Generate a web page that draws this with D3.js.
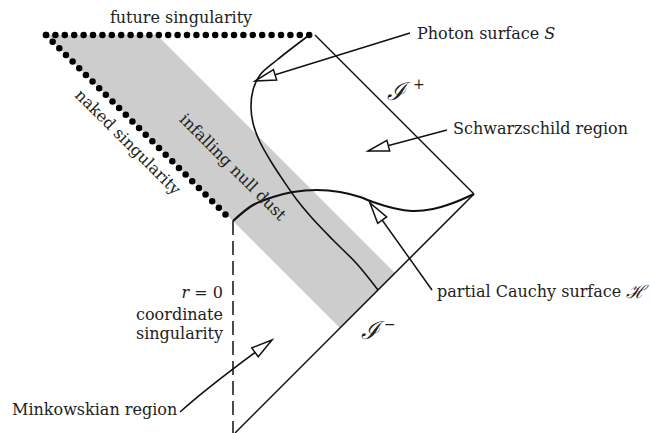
<!DOCTYPE html>
<html><head><meta charset="utf-8">
<script src="https://cdn.jsdelivr.net/npm/d3@7"></script>
<style>body{margin:0;background:#fff}svg{display:block}</style>
</head><body>
<script>
// Diagram coordinates: r (space, right positive), t (time, up positive); origin at the end of the naked singularity
const futureSingularity = [[-18.7, 18.6], [8.2, 18.6]];
const nakedSingularity  = [[-18.7, 18.6], [-0.5, 0.4]];
const scriPlus  = [[8.2, 18.6], [24.1, 2.7]];
const scriMinus = [[24.1, 2.7], [0.2, -21.2]];
const regularCentre = [[0, 0], [0, -21.2]];
const nullDustBand = [[-18.7, 18.6], [-7.6, 18.6], [16.2, -5.2], [10.7, -10.7], [0, 0]];
const photonSurface = [[7.5,18.5],[4.4,16.1],[2.7,14.6],[2.0,13.1],[1.8,11.4],[2.0,9.8],[2.6,8.1],[3.7,6.1],[5.0,4.1],[6.4,2.1],[7.9,0.3],[10.0,-1.9],[12.4,-4.3],[14.5,-6.9]];
const cauchySurface = [[0,0],[2.0,1.6],[4.0,2.4],[6.0,2.9],[8.4,3.1],[10.7,2.9],[12.7,2.4],[14.0,1.9],[16.0,1.3],[18.0,1.0],[20.0,1.2],[22.0,1.8],[24.1,2.7]];
// arrows: tail, (control), tip
const arrowNames = ["photon", "schwarzschild", "cauchy", "minkowski"];
const arrowTails = [[17.7, 18.8], [21.4, 9.1], [19.9, -6.9], [-5.3, -19.1]];
const arrowCtrls = [null, null, null, [-2.3, -16.4]];
const arrowTips  = [[2.2, 14.0], [13.5, 7.0], [13.7, 1.8], [3.9, -11.9]];
// labels
const labelTexts = ["future singularity", "naked singularity", "infalling null dust", "Photon surface ", "Schwarzschild region", "partial Cauchy surface ", "r = 0", "coordinate", "singularity", "Minkowskian region"];
const labelPos = [[-5.2, 20.4], [-10.5, 7.9], [0.0, 5.4], [18.4, 18.8], [22.0, 9.3], [20.4, -7.0], [-1.0, -7.1], [-1.0, -9.3], [-1.0, -11.2], [-22.1, -18.8]];
const labelAnchor = ["middle", "middle", "middle", "start", "start", "start", "end", "end", "end", "start"];
const labelRotate = [0, 45, 45, 0, 0, 0, 0, 0, 0, 0];
const scriGlyphs = ["ℐ", "ℐ"];
const scriSigns = ["+", "−"];
const scriGlyphPos = [[15.4, 13.0], [12.8, -10.9]];
const scriSignPos = [[18.0, 13.7], [15.1, -10.3]];

const W = 650, H = 433;
const x = d3.scaleLinear().domain([-23.3, 41.7]).range([0, W]);
const y = d3.scaleLinear().domain([22.1, -21.2]).range([0, H]);

const svg = d3.select("body").append("svg").attr("width", W).attr("height", H);
const font = "'DejaVu Serif', 'Liberation Serif', serif";
const line = d3.line().x(d => x(d[0])).y(d => y(d[1]));
const curve = d3.line().x(d => x(d[0])).y(d => y(d[1])).curve(d3.curveCatmullRom.alpha(0.5));

// shaded null dust band
svg.append("path").attr("d", line(nullDustBand) + "Z").attr("fill", "#cdcdcd");

// boundaries
[scriPlus, scriMinus].forEach(s => svg.append("path").attr("d", line(s)).attr("stroke", "#111").attr("stroke-width", 1.5).attr("fill", "none"));
svg.append("path").attr("d", line(regularCentre)).attr("stroke", "#111").attr("stroke-width", 1.5)
  .attr("stroke-dasharray", "14 6").attr("fill", "none");

// curves
svg.append("path").attr("d", curve(photonSurface)).attr("stroke", "#111").attr("stroke-width", 1.6).attr("fill", "none");
svg.append("path").attr("d", curve(cauchySurface)).attr("stroke", "#111").attr("stroke-width", 2.2).attr("fill", "none");

// dotted singularities
[futureSingularity, nakedSingularity].forEach(s => svg.append("path").attr("d", line(s))
  .attr("stroke", "#000").attr("stroke-width", 6.5).attr("stroke-linecap", "round")
  .attr("stroke-dasharray", "0 9.4").attr("fill", "none"));

// arrows
arrowNames.forEach((n, i) => {
  const t = arrowTails[i], c = arrowCtrls[i], p = arrowTips[i];
  const path = d3.path();
  path.moveTo(x(t[0]), y(t[1]));
  const from = c ? c : t;
  if (c) path.quadraticCurveTo(x(c[0]), y(c[1]), x(p[0]), y(p[1]));
  else path.lineTo(x(p[0]), y(p[1]));
  svg.append("path").attr("d", path.toString()).attr("stroke", "#111").attr("stroke-width", 1.5).attr("fill", "none");
  const px = x(p[0]), py = y(p[1]);
  const dx = x(from[0]) - px, dy = y(from[1]) - py, L = Math.hypot(dx, dy);
  const ux = dx / L, uy = dy / L, len = 21, hw = 5.5;
  const bx = px + ux * len, by = py + uy * len;
  svg.append("path").attr("d", `M${px},${py}L${bx - uy * hw},${by + ux * hw}L${bx + uy * hw},${by - ux * hw}Z`)
    .attr("fill", "#fff").attr("stroke", "#111").attr("stroke-width", 1.5).attr("stroke-linejoin", "miter");
});

// labels
labelTexts.forEach((s, i) => {
  const X = x(labelPos[i][0]), Y = y(labelPos[i][1]);
  const tx = svg.append("text").attr("x", X).attr("y", Y).attr("text-anchor", labelAnchor[i])
    .attr("dominant-baseline", "central").attr("font-family", font).attr("font-size", 16).attr("fill", "#222")
    .attr("transform", labelRotate[i] ? `rotate(${labelRotate[i]},${X},${Y})` : null);
  if (i === 3) { tx.text(s); tx.append("tspan").attr("font-style", "italic").text("S"); }
  else if (i === 5) { tx.text(s); tx.append("tspan").attr("font-style", "italic").attr("font-size", 18).text("ℋ"); }
  else if (i === 6) { tx.append("tspan").attr("font-style", "italic").text("r"); tx.append("tspan").text(" = 0"); }
  else tx.text(s);
});
// null infinity symbols
scriGlyphs.forEach((g, i) => {
  svg.append("text").attr("x", x(scriGlyphPos[i][0])).attr("y", y(scriGlyphPos[i][1])).attr("dominant-baseline", "central")
    .attr("font-family", font).attr("font-style", "italic").attr("font-size", 25).attr("fill", "#222").text(g);
  svg.append("text").attr("x", x(scriSignPos[i][0])).attr("y", y(scriSignPos[i][1])).attr("dominant-baseline", "central")
    .attr("font-family", font).attr("font-size", 14).attr("fill", "#222").text(scriSigns[i]);
});
</script>
</body></html>
